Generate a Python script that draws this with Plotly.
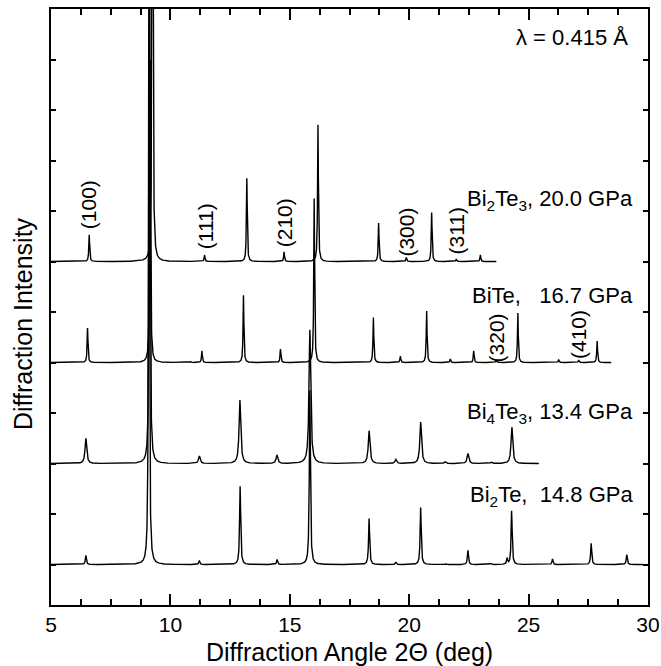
import numpy as np
import plotly.graph_objects as go

# ---------------- data ----------------
# peak positions (2-theta, deg) and peak heights (in units of the y tick spacing)
bi2te3_pos = [6.60, 9.25, 11.43, 13.20, 14.76, 16.18, 18.72, 19.88, 20.94, 21.97, 22.98]
bi2te3_int = [0.53, 12.0, 0.13, 1.65, 0.19, 2.71, 0.76, 0.08, 0.97, 0.05, 0.13]
bi2te3_range = [5.0, 23.65]

bite_pos = [6.53, 9.15, 10.86, 11.32, 13.06, 14.61, 16.02, 18.50, 19.63, 20.73, 21.72,
            22.70, 23.65, 24.55, 26.26, 27.10, 27.87]
bite_int = [0.69, 6.05, 0.02, 0.23, 1.33, 0.27, 3.25, 0.89, 0.13, 1.03, 0.07,
            0.23, 0.05, 0.99, 0.06, 0.05, 0.43]
bite_range = [5.0, 28.46]

bi4te3_pos = [6.46, 9.13, 11.21, 12.91, 14.46, 15.84, 18.32, 19.44, 20.48, 21.50,
              22.46, 23.44, 24.30]
bi4te3_int = [0.50, 12.0, 0.15, 1.26, 0.17, 2.65, 0.65, 0.08, 0.82, 0.04,
              0.20, 0.03, 0.72]
bi4te3_range = [5.0, 25.43]

bi2te_pos = [6.46, 9.10, 11.21, 12.92, 14.47, 15.84, 18.32, 19.44, 20.48, 21.53,
             22.46, 23.44, 24.10, 24.29, 26.00, 27.62, 29.11]
bi2te_int = [0.18, 12.0, 0.08, 1.55, 0.10, 3.45, 0.91, 0.05, 1.13, 0.02,
             0.28, 0.02, 0.12, 1.07, 0.11, 0.42, 0.20]
bi2te_range = [5.0, 30.0]

offsets = [6, 4, 2, 0]
labels = ["Bi<sub>2</sub>Te<sub>3</sub>, 20.0 GPa",
          "BiTe,\u00a0\u00a0\u00a016.7 GPa",
          "Bi<sub>4</sub>Te<sub>3</sub>, 13.4 GPa",
          "Bi<sub>2</sub>Te,\u00a0\u00a014.8 GPa"]
label_y = [7.22, 5.32, 3.01, 1.36]

hkl_text = ["(100)", "(111)", "(210)", "(300)", "(311)", "(320)", "(410)"]
hkl_x = [6.60, 11.45, 14.76, 19.90, 21.99, 23.66, 27.12]
hkl_y = [7.12, 6.70, 6.76, 6.59, 6.61, 4.49, 4.55]

# ---------------- profile building ----------------
patterns = [
    (bi2te3_pos, bi2te3_int, bi2te3_range, 0.020),
    (bite_pos, bite_int, bite_range, 0.020),
    (bi4te3_pos, bi4te3_int, bi4te3_range, 0.042),
    (bi2te_pos, bi2te_int, bi2te_range, 0.026),
]

fig = go.Figure()
for (pos, inten, rng, w), off in zip(patterns, offsets):
    x = np.arange(rng[0], rng[1] + 1e-9, 0.004)
    y = np.zeros_like(x)
    for p, h in zip(pos, inten):
        ww = w if h < 5 else 0.021
        y += h * ww**2 / ((x - p) ** 2 + ww**2)
    fig.add_trace(go.Scatter(x=x, y=y + off, mode="lines",
                             line=dict(color="black", width=1.4),
                             hoverinfo="skip", showlegend=False))

FONT = "Liberation Sans, Arial, sans-serif"
ann = []
for t, yy in zip(labels, label_y):
    ann.append(dict(x=29.46, y=yy, xref="x", yref="y", text=t, showarrow=False,
                    xanchor="right", yanchor="middle",
                    font=dict(family=FONT, size=22, color="black")))
for t, xx, yy in zip(hkl_text, hkl_x, hkl_y):
    ann.append(dict(x=xx, y=yy, xref="x", yref="y", text=t, showarrow=False,
                    textangle=-90, xanchor="center", yanchor="middle",
                    font=dict(family=FONT, size=21, color="black")))
ann.append(dict(x=29.25, y=10.43, xref="x", yref="y", text="\u03bb = 0.415 \u00c5",
                showarrow=False, xanchor="right", yanchor="middle",
                font=dict(family=FONT, size=22, color="black")))
# axis titles
ann.append(dict(x=0.5, y=-0.079, xref="paper", yref="paper",
                text="Diffraction Angle 2\u0398 (deg)", showarrow=False,
                xanchor="center", yanchor="middle",
                font=dict(family=FONT, size=25, color="black")))
ann.append(dict(x=-0.047, y=0.473, xref="paper", yref="paper",
                text="Diffraction Intensity", showarrow=False, textangle=-90,
                xanchor="center", yanchor="middle",
                font=dict(family=FONT, size=25, color="black")))

fig.update_layout(
    width=661, height=666, autosize=False,
    margin=dict(l=51, r=13, t=9, b=61, autoexpand=False),
    paper_bgcolor="white", plot_bgcolor="white",
    annotations=ann,
    font=dict(family=FONT, color="black"),
    xaxis=dict(range=[5, 30], tick0=5, dtick=5, ticks="inside", ticklen=11,
               tickwidth=1.5, tickcolor="black", showline=True, linewidth=2,
               linecolor="black", mirror="allticks", showgrid=False, zeroline=False,
               automargin=False,
               tickfont=dict(family=FONT, size=21, color="black"),
               minor=dict(ticks="inside", tick0=5, dtick=1.25, ticklen=6,
                          tickwidth=1.5, tickcolor="black", showgrid=False)),
    yaxis=dict(range=[-0.8, 11.0], tick0=0, dtick=1, ticks="inside", ticklen=5,
               tickwidth=1.5, tickcolor="black", showline=True, linewidth=2,
               linecolor="black", mirror="allticks", showgrid=False, zeroline=False,
               automargin=False, showticklabels=False),
)

# remove the page's default 8px body margin so the figure fills the window exactly
fig.write_html("out.html",
               config={"displayModeBar": False},
               post_script="document.body.style.margin='0';"
                           "document.body.style.overflow='hidden';")
